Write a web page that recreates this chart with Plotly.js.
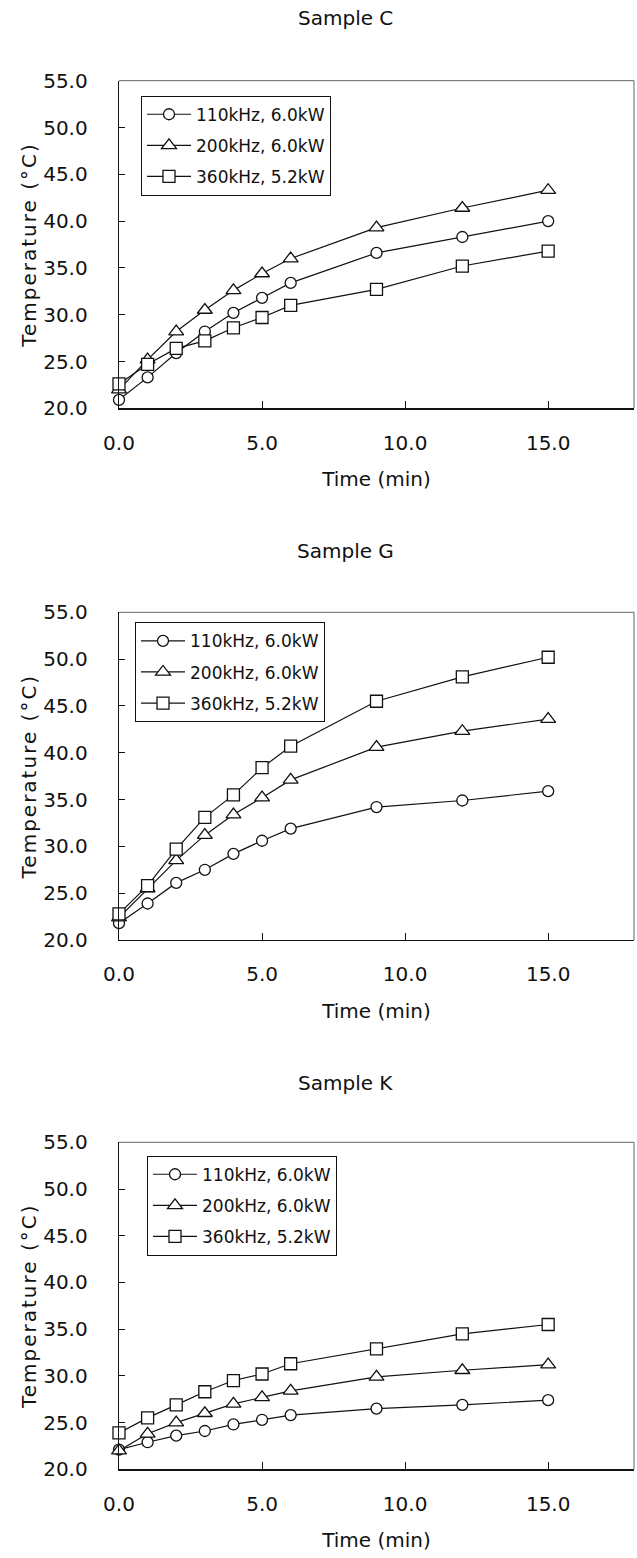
<!DOCTYPE html>
<html>
<head>
<meta charset="utf-8">
<script src="https://cdn.plot.ly/plotly-3.0.1.min.js"></script>
<style>
html,body{margin:0;padding:0;background:#fff;}
#chart{width:637px;height:1558px;}
.g-ytitle text, .g-y2title text, .g-y3title text{letter-spacing:2px;}
</style>
</head>
<body>
<div id="chart"></div>
<script>
// Time (min)
const times = [0, 1, 2, 3, 4, 5, 6, 9, 12, 15];
const seriesNames = ['110kHz, 6.0kW', '200kHz, 6.0kW', '360kHz, 5.2kW'];
const sampleTitles = ['Sample C', 'Sample G', 'Sample K'];

// Sample C
const sampleC_110 = [20.9, 23.3, 25.9, 28.2, 30.2, 31.8, 33.4, 36.6, 38.3, 40.0];
const sampleC_200 = [22.0, 25.2, 28.2, 30.5, 32.6, 34.4, 36.0, 39.3, 41.4, 43.3];
const sampleC_360 = [22.6, 24.7, 26.4, 27.2, 28.6, 29.7, 31.0, 32.7, 35.2, 36.8];

// Sample G
const sampleG_110 = [21.8, 23.9, 26.1, 27.5, 29.2, 30.6, 31.9, 34.2, 34.9, 35.9];
const sampleG_200 = [22.4, 25.5, 28.5, 31.2, 33.4, 35.2, 37.1, 40.6, 42.3, 43.6];
const sampleG_360 = [22.8, 25.8, 29.7, 33.1, 35.5, 38.4, 40.7, 45.5, 48.1, 50.2];

// Sample K
const sampleK_110 = [22.1, 22.9, 23.6, 24.1, 24.8, 25.3, 25.8, 26.5, 26.9, 27.4];
const sampleK_200 = [22.0, 23.8, 25.0, 26.0, 27.0, 27.7, 28.4, 29.9, 30.6, 31.2];
const sampleK_360 = [23.9, 25.5, 26.9, 28.3, 29.5, 30.2, 31.3, 32.9, 34.5, 35.5];

const yTickVals = [20, 25, 30, 35, 40, 45, 50, 55];
const xTickVals = [0, 5, 10, 15];

const panels = [
  [sampleC_110, sampleC_200, sampleC_360],
  [sampleG_110, sampleG_200, sampleG_360],
  [sampleK_110, sampleK_200, sampleK_360]
];

const FONT = 'DejaVu Sans, Liberation Sans, Arial, sans-serif';
const symbols = ['circle', 'triangle-up', 'square'];
const sizes = [11, 13, 12];

const H = 1558, W = 637;
const plotLeft = 119 / W, plotRight = 634 / W;
// [top, bottom] in pixels
const panelPx = [[80.7, 408.3], [612.3, 940], [1142.3, 1469.3]];
const titlePx = [18, 551, 1083];
const legendPx = [[141, 95.7], [135, 622.3], [147, 1155.7]];

const data = [];
const layout = {
  width: W, height: H,
  margin: {l: 0, r: 0, t: 0, b: 0, autoexpand: false},
  paper_bgcolor: '#fff', plot_bgcolor: '#fff',
  font: {family: FONT, color: '#111', size: 17},
  showlegend: true,
  annotations: [],
  shapes: []
};

panels.forEach((series, p) => {
  const sfx = p === 0 ? '' : String(p + 1);
  const xa = 'x' + sfx, ya = 'y' + sfx;
  const lg = 'legend' + sfx;
  series.forEach((vals, i) => {
    data.push({
      type: 'scatter', mode: 'lines+markers',
      x: times, y: vals,
      xaxis: xa, yaxis: ya,
      name: seriesNames[i],
      legend: lg,
      legendgroup: 'g' + p + '_' + i,
      cliponaxis: false,
      line: {color: '#111', width: 1.2},
      marker: {symbol: symbols[i], size: sizes[i], color: '#fff', line: {color: '#111', width: 1.3}}
    });
  });
  const top = panelPx[p][0], bot = panelPx[p][1];
  layout['xaxis' + sfx] = {
    domain: [plotLeft, plotRight],
    anchor: ya,
    range: [0, 18],
    tickvals: xTickVals, tickformat: '.1f',
    ticks: 'inside', ticklen: 7, tickcolor: '#111', tickwidth: 1,
    showline: true, linecolor: '#111', linewidth: 1.3,
    showgrid: false, zeroline: false,
    tickfont: {family: FONT, size: 20, color: '#111'},
    ticklabelstandoff: 16,
    automargin: false,
    title: {text: 'Time (min)', standoff: 18, font: {family: FONT, size: 20, color: '#111'}},
    fixedrange: true
  };
  layout['yaxis' + sfx] = {
    domain: [1 - bot / H, 1 - top / H],
    anchor: xa,
    range: [20, 55],
    tickvals: yTickVals, tickformat: '.1f',
    ticks: 'inside', ticklen: 6, tickcolor: '#111', tickwidth: 1,
    showline: true, linecolor: '#111', linewidth: 1.3,
    showgrid: false, zeroline: false,
    tickfont: {family: FONT, size: 20, color: '#111'},
    ticklabelstandoff: 26,
    automargin: false,
    title: {text: 'Temperature (°C)', font: {family: FONT, size: 20, color: '#111'}},
    fixedrange: true
  };
  layout[lg] = {
    x: legendPx[p][0] / W, y: 1 - legendPx[p][1] / H,
    xanchor: 'left', yanchor: 'top',
    xref: 'paper', yref: 'paper',
    bgcolor: '#fff', bordercolor: '#111', borderwidth: 1,
    font: {family: FONT, size: 17, color: '#111'},
    traceorder: 'grouped', tracegroupgap: 6,
    itemwidth: 44
  };
  layout.annotations.push({
    text: sampleTitles[p], xref: 'paper', yref: 'paper',
    x: 345 / W, y: 1 - titlePx[p] / H, xanchor: 'center', yanchor: 'middle',
    showarrow: false, font: {family: FONT, size: 20, color: '#111'}
  });
  // top and right frame lines (grey)
  layout.shapes.push({type: 'line', xref: xa + ' domain', yref: ya + ' domain', x0: 0, x1: 1, y0: 1, y1: 1, line: {color: '#666', width: 1}});
  layout.shapes.push({type: 'line', xref: xa + ' domain', yref: ya + ' domain', x0: 1, x1: 1, y0: 0, y1: 1, line: {color: '#666', width: 1}});
});

Plotly.newPlot('chart', data, layout, {displayModeBar: false, staticPlot: true});
</script>
</body>
</html>
